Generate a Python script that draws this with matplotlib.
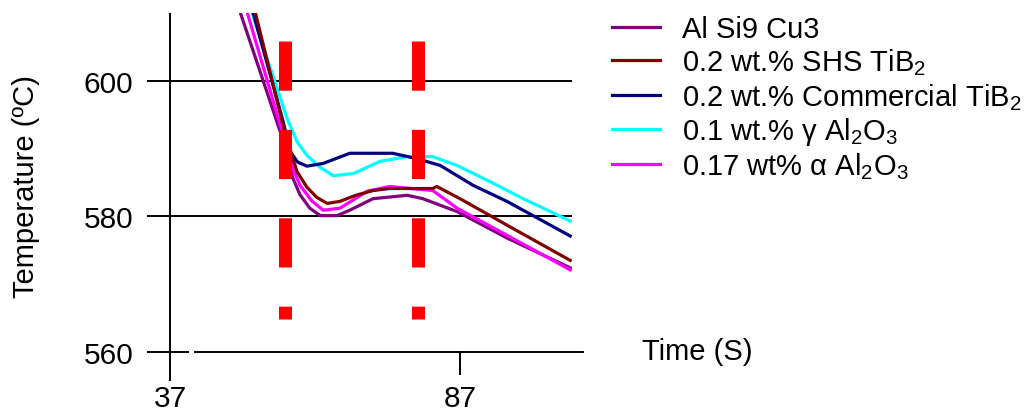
import matplotlib
matplotlib.use("Agg")
from matplotlib import pyplot as plt

plt.rcParams["font.family"] = ["Liberation Sans", "DejaVu Sans"]
plt.rcParams["mathtext.default"] = "regular"

# Kurvene lest av figuren (tid i s, temperatur i grader C)
navn = [
    "Al Si9 Cu3",
    "0.2 wt.% SHS TiB$_2$",
    "0.2 wt.% Commercial TiB$_2$",
    "0.1 wt.% γ Al$_2$O$_3$",
    "0.17 wt% α Al$_2$O$_3$",
]
farger = ["#800080", "#800000", "#000080", "#00ffff", "#ff00ff"]

t_alsi = [49.1, 56.0, 57.2, 58.2, 59.4, 61.1, 62.9, 65.8, 68.0, 72.0, 77.9, 80.6, 86.5, 95.1, 106.0]
T_alsi = [610.1, 592.5, 589.0, 585.6, 583.2, 581.2, 580.1, 580.1, 580.9, 582.6, 583.1, 582.6, 580.7, 576.8, 572.4]

t_shs = [51.7, 56.5, 57.7, 58.9, 60.6, 62.3, 64.1, 66.3, 69.0, 72.0, 74.9, 82.3, 83.0, 87.0, 95.1, 106.0]
T_shs = [610.1, 593.4, 589.8, 586.6, 584.3, 582.8, 581.9, 582.2, 583.1, 583.8, 584.1, 584.1, 584.4, 582.6, 578.7, 573.5]

t_kom = [51.3, 56.5, 57.7, 59.0, 60.6, 63.4, 68.0, 75.4, 79.6, 83.6, 89.2, 95.1, 106.0]
T_kom = [610.1, 594.0, 589.6, 588.0, 587.4, 587.8, 589.3, 589.3, 588.5, 587.5, 584.6, 582.2, 577.1]

t_gamma = [51.1, 57.2, 58.9, 60.6, 62.9, 65.1, 68.6, 73.2, 77.9, 82.3, 86.5, 92.2, 97.9, 106.0]
T_gamma = [610.1, 594.4, 591.0, 589.0, 587.2, 586.0, 586.3, 588.1, 588.8, 588.8, 587.5, 585.1, 582.6, 579.3]

t_alfa = [50.3, 57.2, 58.2, 59.4, 61.4, 63.4, 66.3, 71.0, 74.9, 82.3, 86.5, 95.1, 106.0]
T_alfa = [610.1, 590.0, 587.0, 584.6, 582.3, 580.9, 581.2, 583.7, 584.4, 583.8, 581.2, 577.2, 572.1]

# Røde stiplede markeringslinjer (fra toppen og ned)
markering_t = [56.8, 79.8]
markering_T = [605.9, 564.9]

y_ticks = [560, 580, 600]
x_ticks = [37, 87]


def main() -> None:
    fig = plt.figure(figsize=(10.36, 4.10), dpi=100)
    ax = fig.add_axes([0.1419, 0.0683, 0.4102, 0.8976])
    ax.set_xlim(33.03, 106.31)
    ax.set_ylim(555.7, 610.0)

    for s in ax.spines.values():
        s.set_visible(False)

    # Rutenett og akser
    ax.axhline(600, color="black", lw=1.4, zorder=1)
    ax.axhline(580, color="black", lw=1.4, zorder=1)
    ax.axhline(560, xmin=0, xmax=0.0965, color="black", lw=1.4, zorder=1)
    ax.axhline(560, xmin=0.113, xmax=1.025, color="black", lw=1.4, zorder=1, clip_on=False)
    ax.axvline(37, color="black", lw=1.4, zorder=1)
    ax.axvline(87, ymin=0.02, ymax=0.079, color="black", lw=1.4, zorder=1)

    data = [(t_alsi, T_alsi), (t_shs, T_shs), (t_kom, T_kom), (t_gamma, T_gamma), (t_alfa, T_alfa)]
    rekkefølge = [3, 2, 0, 4, 1]
    linjer = {}
    for i in rekkefølge:
        t, T = data[i]
        (l,) = ax.plot(t, T, color=farger[i], lw=2.3, label=navn[i], zorder=2)
        linjer[i] = l

    for tm in markering_t:
        ax.plot([tm, tm], markering_T, color="#ff0000", lw=9.4,
                linestyle=(0, (3.77, 3.0)), solid_capstyle="butt",
                dash_capstyle="butt", zorder=3)

    ax.set_yticks(y_ticks)
    ax.set_xticks(x_ticks)
    ax.tick_params(axis="both", length=0, labelsize=21.5)
    ax.tick_params(axis="y", pad=10)
    ax.tick_params(axis="x", pad=2)

    fig.text(26 / 1036, 0.546, "Temperature (ºC)", rotation=90, fontsize=21,
             ha="center", va="center")
    fig.text(642 / 1036, (410 - 352) / 410, "Time (S)", fontsize=21,
             ha="left", va="center")

    ax.legend([linjer[i] for i in range(5)], navn, loc="upper left",
              bbox_to_anchor=(612 / 1036, 394 / 410), bbox_transform=fig.transFigure,
              frameon=False, fontsize=21, handlelength=1.65, handletextpad=0.76,
              labelspacing=0.12, borderaxespad=0.0, borderpad=0.0)

    fig.savefig("out.png", dpi=100)


if __name__ == "__main__":
    main()
